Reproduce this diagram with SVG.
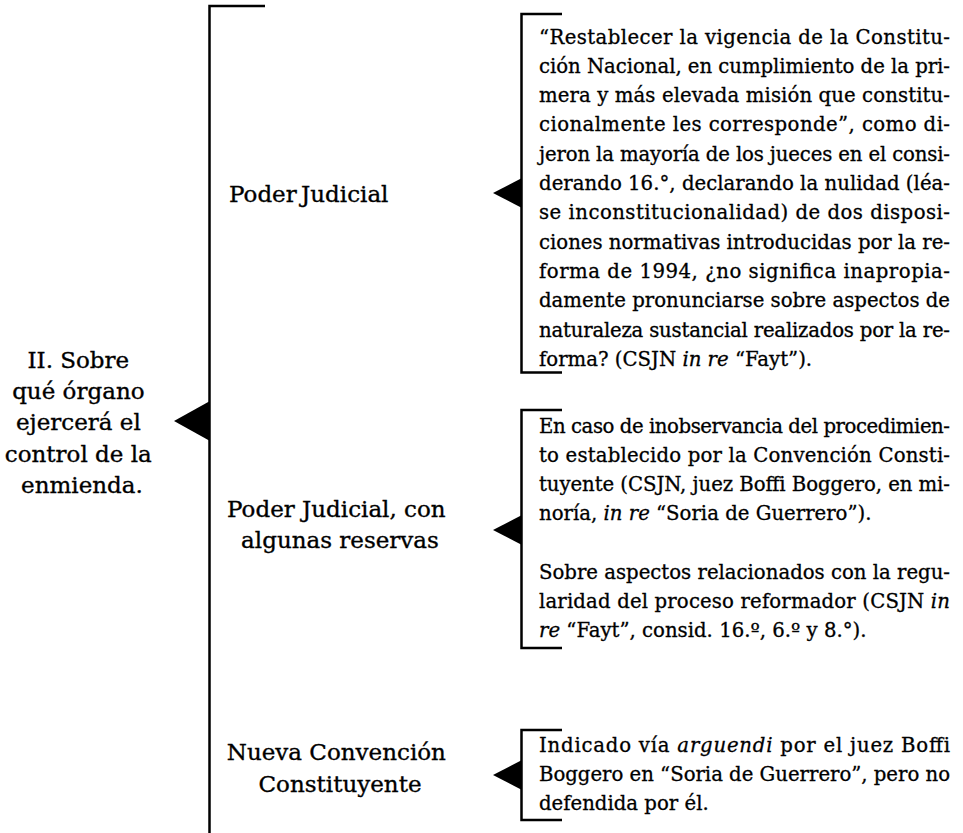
<svg xmlns="http://www.w3.org/2000/svg" width="963" height="833" viewBox="0 0 963 833">
<style>
  .big { font-family: "DejaVu Serif", "Liberation Serif", serif; font-size: 23px; fill: #000; stroke: #000; stroke-width: 0.35; }
  .txt { font-family: "DejaVu Serif", "Liberation Serif", serif; font-size: 19.7px; fill: #000; stroke: #000; stroke-width: 0.3; }
  .it { font-style: italic; }
  .br { fill: none; stroke: #000; stroke-width: 2.5; }
  .arr { fill: #000; stroke: none; }
</style>
<rect width="963" height="833" fill="#fff"/>
<g id="connectors">
  <path class="br" d="M265,6 H209.5 V833"/>
  <polygon class="arr" points="174,421 210,401 210,441"/>
  <path class="br" d="M562,14 H521.5 V372.5 H562"/>
  <polygon class="arr" points="493,193 522,178 522,208"/>
  <path class="br" d="M562,410 H521.5 V648 H562"/>
  <polygon class="arr" points="493,530 522,515 522,545"/>
  <path class="br" d="M562,730 H521.5 V820 H562"/>
  <polygon class="arr" points="493,775 522,760 522,790"/>
</g>
<g id="root">
  <text class="big" text-anchor="middle">
    <tspan x="82" y="368">II. Sobre</tspan>
    <tspan x="82" y="399">qué órgano</tspan>
    <tspan x="82" y="430">ejercerá el</tspan>
    <tspan x="82" y="462">control de la</tspan>
    <tspan x="82" y="493">enmienda.</tspan>
  </text>
</g>
<g id="label-poder-judicial">
  <text class="big" x="229" y="202" word-spacing="-3">Poder Judicial</text>
</g>
<g id="label-reservas">
  <text class="big" text-anchor="middle">
    <tspan x="340" y="517">Poder Judicial, con</tspan>
    <tspan x="340" y="548">algunas reservas</tspan>
  </text>
</g>
<g id="label-convencion">
  <text class="big" text-anchor="middle">
    <tspan x="340" y="760">Nueva Convención</tspan>
    <tspan x="340" y="792">Constituyente</tspan>
  </text>
</g>
<g id="box-fayt">
  <text class="txt" x="539" y="43.5" textLength="411" lengthAdjust="spacing">“Restablecer la vigencia de la Constitu-</text>
  <text class="txt" x="539" y="72.8" textLength="411" lengthAdjust="spacing">ción Nacional, en cumplimiento de la pri-</text>
  <text class="txt" x="539" y="102.1" textLength="411" lengthAdjust="spacing">mera y más elevada misión que constitu-</text>
  <text class="txt" x="539" y="131.4" textLength="411" lengthAdjust="spacing">cionalmente les corresponde”, como di-</text>
  <text class="txt" x="539" y="160.7" textLength="411" lengthAdjust="spacing">jeron la mayoría de los jueces en el consi-</text>
  <text class="txt" x="539" y="190" textLength="411" lengthAdjust="spacing">derando 16.°, declarando la nulidad (léa-</text>
  <text class="txt" x="539" y="219.3" textLength="411" lengthAdjust="spacing">se inconstitucionalidad) de dos disposi-</text>
  <text class="txt" x="539" y="248.6" textLength="411" lengthAdjust="spacing">ciones normativas introducidas por la re-</text>
  <text class="txt" x="539" y="277.9" textLength="411" lengthAdjust="spacing">forma de 1994, ¿no significa inapropia-</text>
  <text class="txt" x="539" y="307.2" textLength="411" lengthAdjust="spacing">damente pronunciarse sobre aspectos de</text>
  <text class="txt" x="539" y="336.5" textLength="411" lengthAdjust="spacing">naturaleza sustancial realizados por la re-</text>
  <text class="txt" x="539" y="365.8">forma? (CSJN <tspan class="it">in re</tspan> “Fayt”).</text>
</g>
<g id="box-reservas">
  <text class="txt" x="539" y="433" textLength="411" lengthAdjust="spacing">En caso de inobservancia del procedimien-</text>
  <text class="txt" x="539" y="462" textLength="411" lengthAdjust="spacing">to establecido por la Convención Consti-</text>
  <text class="txt" x="539" y="491" textLength="411" lengthAdjust="spacing">tuyente (CSJN, juez Boffi Boggero, en mi-</text>
  <text class="txt" x="539" y="520">noría, <tspan class="it">in re</tspan> “Soria de Guerrero”).</text>
  <text class="txt" x="539" y="579" textLength="411" lengthAdjust="spacing">Sobre aspectos relacionados con la regu-</text>
  <text class="txt" x="539" y="608" textLength="411" lengthAdjust="spacing">laridad del proceso reformador (CSJN <tspan class="it">in</tspan></text>
  <text class="txt" x="539" y="637"><tspan class="it">re</tspan> “Fayt”, consid. 16.º, 6.º y 8.°).</text>
</g>
<g id="box-convencion">
  <text class="txt" x="539" y="752" textLength="411" lengthAdjust="spacing">Indicado vía <tspan class="it">arguendi</tspan> por el juez Boffi</text>
  <text class="txt" x="539" y="781" textLength="411" lengthAdjust="spacing">Boggero en “Soria de Guerrero”, pero no</text>
  <text class="txt" x="539" y="810">defendida por él.</text>
</g>
</svg>
